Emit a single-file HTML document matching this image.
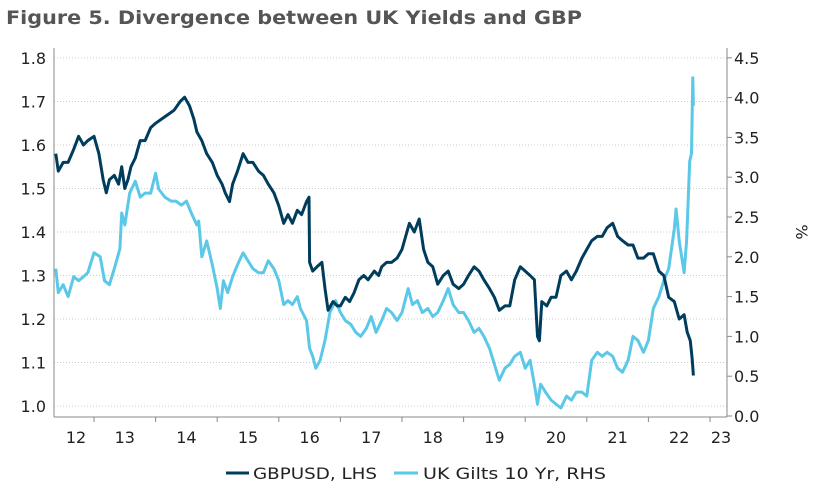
<!DOCTYPE html>
<html><head><meta charset="utf-8"><style>
body{margin:0;background:#fff;width:814px;height:494px;overflow:hidden;font-family:"DejaVu Sans","Liberation Sans",sans-serif}
</style></head><body>
<svg width="814" height="494" xmlns="http://www.w3.org/2000/svg">
<text x="6" y="24" font-size="19" font-weight="bold" fill="#555" textLength="576" lengthAdjust="spacingAndGlyphs">Figure 5. Divergence between UK Yields and GBP</text>
<g id="grid"></g><g id="axes"></g><g id="series"></g>
<text transform="translate(796,232) rotate(90)" font-size="16" fill="#222" text-anchor="middle">%</text>
<g>
<line x1="226" y1="473" x2="249" y2="473" stroke="#003d5c" stroke-width="3"/>
<text x="253" y="479" font-size="16" fill="#222" textLength="124" lengthAdjust="spacingAndGlyphs">GBPUSD, LHS</text>
<line x1="394" y1="473" x2="418" y2="473" stroke="#5bc8e8" stroke-width="3"/>
<text x="423" y="479" font-size="16" fill="#222" textLength="183" lengthAdjust="spacingAndGlyphs">UK Gilts 10 Yr, RHS</text>
</g>
</svg>
<script>
const gbpDates=[2012.38,2012.42,2012.5,2012.58,2012.67,2012.75,2012.83,2012.9,2013.0,2013.08,2013.15,2013.2,2013.25,2013.33,2013.4,2013.45,2013.5,2013.55,2013.6,2013.67,2013.75,2013.83,2013.92,2014.0,2014.1,2014.2,2014.3,2014.4,2014.47,2014.55,2014.62,2014.67,2014.75,2014.83,2014.92,2015.0,2015.08,2015.13,2015.2,2015.25,2015.33,2015.42,2015.5,2015.58,2015.67,2015.75,2015.83,2015.92,2016.0,2016.08,2016.15,2016.22,2016.3,2016.37,2016.45,2016.49,2016.5,2016.55,2016.62,2016.7,2016.75,2016.8,2016.88,2016.95,2017.0,2017.08,2017.15,2017.22,2017.3,2017.38,2017.45,2017.55,2017.62,2017.67,2017.75,2017.83,2017.92,2018.0,2018.08,2018.12,2018.2,2018.28,2018.35,2018.42,2018.5,2018.58,2018.67,2018.75,2018.83,2018.92,2019.0,2019.08,2019.17,2019.25,2019.33,2019.42,2019.5,2019.58,2019.67,2019.75,2019.83,2019.92,2020.0,2020.08,2020.15,2020.2,2020.23,2020.27,2020.35,2020.42,2020.5,2020.58,2020.67,2020.75,2020.83,2020.92,2021.0,2021.08,2021.17,2021.25,2021.33,2021.42,2021.5,2021.58,2021.67,2021.75,2021.83,2021.92,2022.0,2022.08,2022.17,2022.25,2022.33,2022.42,2022.5,2022.58,2022.63,2022.68,2022.71,2022.73];
const gbpValues=[1.58,1.54,1.56,1.56,1.59,1.62,1.60,1.61,1.62,1.58,1.52,1.49,1.52,1.53,1.51,1.55,1.50,1.52,1.55,1.57,1.61,1.61,1.64,1.65,1.66,1.67,1.68,1.70,1.71,1.69,1.66,1.63,1.61,1.58,1.56,1.53,1.51,1.49,1.47,1.51,1.54,1.58,1.56,1.56,1.54,1.53,1.51,1.49,1.46,1.42,1.44,1.42,1.45,1.44,1.47,1.48,1.33,1.31,1.32,1.33,1.27,1.22,1.24,1.23,1.23,1.25,1.24,1.26,1.29,1.30,1.29,1.31,1.30,1.32,1.33,1.33,1.34,1.36,1.40,1.42,1.40,1.43,1.36,1.33,1.32,1.28,1.30,1.31,1.28,1.27,1.28,1.30,1.32,1.31,1.29,1.27,1.25,1.22,1.23,1.23,1.29,1.32,1.31,1.30,1.29,1.16,1.15,1.24,1.23,1.25,1.25,1.30,1.31,1.29,1.31,1.34,1.36,1.38,1.39,1.39,1.41,1.42,1.39,1.38,1.37,1.37,1.34,1.34,1.35,1.35,1.31,1.30,1.25,1.24,1.20,1.21,1.17,1.15,1.11,1.07];
const giltDates=[2012.38,2012.42,2012.5,2012.58,2012.67,2012.75,2012.83,2012.9,2013.0,2013.1,2013.17,2013.25,2013.33,2013.42,2013.45,2013.5,2013.58,2013.67,2013.75,2013.83,2013.92,2014.0,2014.05,2014.15,2014.25,2014.33,2014.42,2014.5,2014.58,2014.67,2014.7,2014.75,2014.83,2014.92,2015.0,2015.05,2015.1,2015.17,2015.25,2015.33,2015.42,2015.5,2015.58,2015.67,2015.75,2015.83,2015.92,2016.0,2016.08,2016.15,2016.22,2016.3,2016.35,2016.45,2016.5,2016.55,2016.6,2016.67,2016.75,2016.83,2016.92,2017.0,2017.08,2017.17,2017.25,2017.33,2017.42,2017.5,2017.58,2017.67,2017.75,2017.83,2017.92,2018.0,2018.1,2018.17,2018.25,2018.33,2018.42,2018.5,2018.58,2018.67,2018.75,2018.83,2018.92,2019.0,2019.08,2019.17,2019.25,2019.33,2019.42,2019.5,2019.58,2019.67,2019.75,2019.83,2019.92,2020.0,2020.08,2020.17,2020.2,2020.25,2020.33,2020.42,2020.5,2020.58,2020.67,2020.75,2020.83,2020.92,2021.0,2021.08,2021.17,2021.25,2021.33,2021.42,2021.5,2021.58,2021.67,2021.75,2021.83,2021.92,2022.0,2022.08,2022.17,2022.25,2022.33,2022.42,2022.45,2022.5,2022.58,2022.62,2022.67,2022.7,2022.72,2022.73];
const giltValues=[1.85,1.55,1.65,1.50,1.75,1.70,1.75,1.80,2.05,2.00,1.70,1.65,1.85,2.10,2.55,2.40,2.80,2.95,2.75,2.80,2.80,3.05,2.85,2.75,2.70,2.70,2.65,2.70,2.55,2.40,2.45,2.00,2.20,1.90,1.60,1.35,1.70,1.55,1.75,1.90,2.05,1.95,1.85,1.80,1.80,1.95,1.85,1.70,1.40,1.45,1.40,1.50,1.35,1.20,0.85,0.75,0.60,0.70,0.95,1.30,1.45,1.30,1.20,1.15,1.05,1.00,1.10,1.25,1.05,1.20,1.35,1.30,1.20,1.30,1.60,1.40,1.45,1.30,1.35,1.25,1.30,1.45,1.60,1.40,1.30,1.30,1.20,1.05,1.10,1.00,0.85,0.65,0.45,0.60,0.65,0.75,0.80,0.60,0.70,0.30,0.15,0.40,0.30,0.20,0.15,0.10,0.25,0.20,0.30,0.30,0.25,0.70,0.80,0.75,0.80,0.75,0.60,0.55,0.70,1.00,0.95,0.80,0.95,1.35,1.50,1.70,1.85,2.35,2.60,2.20,1.80,2.20,3.20,3.30,4.25,3.90];
const leftTicks=["1.0","1.1","1.2","1.3","1.4","1.5","1.6","1.7","1.8"];
const rightTicks=["0.0","0.5","1.0","1.5","2.0","2.5","3.0","3.5","4.0","4.5"];
const yearLabels=["12","13","14","15","16","17","18","19","20","21","22","23"];

const NS="http://www.w3.org/2000/svg";
const X0=54,X1=727,Ybot=417;
const xs=d=>94+(d-2013)*61.6;
const yl=v=>406-(v-1)*435;
const yr=v=>416-v*79.6;
function mk(tag,attrs,parent){const e=document.createElementNS(NS,tag);for(const k in attrs)e.setAttribute(k,attrs[k]);parent.appendChild(e);return e;}
const grid=document.getElementById('grid'),axes=document.getElementById('axes'),ser=document.getElementById('series');
leftTicks.forEach(t=>{const y=yl(parseFloat(t));
 const g=mk('line',{x1:X0,x2:X1,y1:y,y2:y,stroke:'#c8ccd0','stroke-width':1,'stroke-dasharray':'1,2'},grid);
 
 
 const tx=mk('text',{x:46,y:y+6,'font-size':16,fill:'#222','text-anchor':'end'},axes);tx.textContent=t;
 
 
});
rightTicks.forEach(t=>{const y=yr(parseFloat(t));
 const tk=mk('line',{x1:X1,x2:X1+5,y1:y,y2:y,stroke:'#888'},axes);
 
 
 const tx=mk('text',{x:734,y:y+6,'font-size':16,fill:'#222'},axes);tx.textContent=t;
 
 
});
const ax=mk('line',{x1:X0,x2:X1,y1:Ybot,y2:Ybot,stroke:'#888'},axes);


const la=mk('line',{x1:X0,x2:X0,y1:48,y2:Ybot,stroke:'#888'},axes);


const ra=mk('line',{x1:X1,x2:X1,y1:48,y2:Ybot,stroke:'#888'},axes);


yearLabels.forEach((l,i)=>{const yr0=2012+i;
 if(i>0){const tk=mk('line',{x1:xs(yr0),x2:xs(yr0),y1:Ybot,y2:Ybot+5,stroke:'#888'},axes);
  
  }
 let cx=xs(yr0+0.5); if(i===0)cx=76; if(i===yearLabels.length-1)cx=721;
 const tx=mk('text',{x:cx,y:443,'font-size':16,fill:'#222','text-anchor':'middle'},axes);tx.textContent=l;
 
 
});
function line(d,v,ysc,col,name){
 const p=mk('path',{d:d.map((t,i)=>(i?'L':'M')+xs(t).toFixed(1)+','+ysc(v[i]).toFixed(1)).join(''),fill:'none',stroke:col,'stroke-width':3,'stroke-linejoin':'round'},ser);
 
 
}
line(giltDates,giltValues,yr,'#5bc8e8','gilts-line');
line(gbpDates,gbpValues,yl,'#003d5c','gbpusd-line');
</script>
</body></html>
